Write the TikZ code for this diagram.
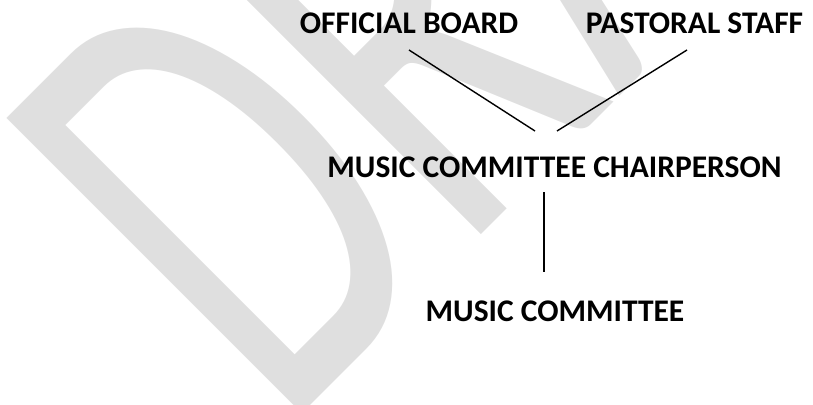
\documentclass[tikz,border=0pt]{standalone}
\usepackage{fontspec}
\setmainfont{Carlito}
\definecolor{wmgray}{RGB}{223,223,223}
\begin{document}
\begin{tikzpicture}[x=1pt,y=-1pt,
  lbl/.style={font=\fontsize{31.5}{31.5}\selectfont\bfseries, inner sep=0pt, anchor=base, text=black},
  conn/.style={line width=1.4pt, draw=black},
  wm/.style={text=wmgray, inner sep=0pt, anchor=base west, font=\fontsize{100}{100}\selectfont, transform shape}]
\useasboundingbox (0,0) rectangle (813,404);
\clip (0,0) rectangle (813,404);
% watermark
\begin{scope}[shift={(281.6,434.4)}, rotate=45, xscale=4.11, yscale=6.51]
  \node[wm] (wm) at (0,0) {DRAFT};
\end{scope}
% labels
\node[lbl] (ob) at (409,34) {OFFICIAL BOARD};
\node[lbl] (ps) at (694.5,34) {PASTORAL STAFF};
\node[lbl] (ch) at (554.5,177) {MUSIC COMMITTEE CHAIRPERSON};
\node[lbl] (mc) at (555,321) {MUSIC COMMITTEE};
% connector ends
\coordinate (obE) at (409,50);
\coordinate (chL) at (535,131);
\coordinate (psE) at (687,50);
\coordinate (chR) at (557,131);
\coordinate (chB) at (544,192);
\coordinate (mcT) at (544,272);
\draw[conn] (obE) -- (chL);
\draw[conn] (psE) -- (chR);
\draw[conn] (chB) -- (mcT);
\end{tikzpicture}
\end{document}
